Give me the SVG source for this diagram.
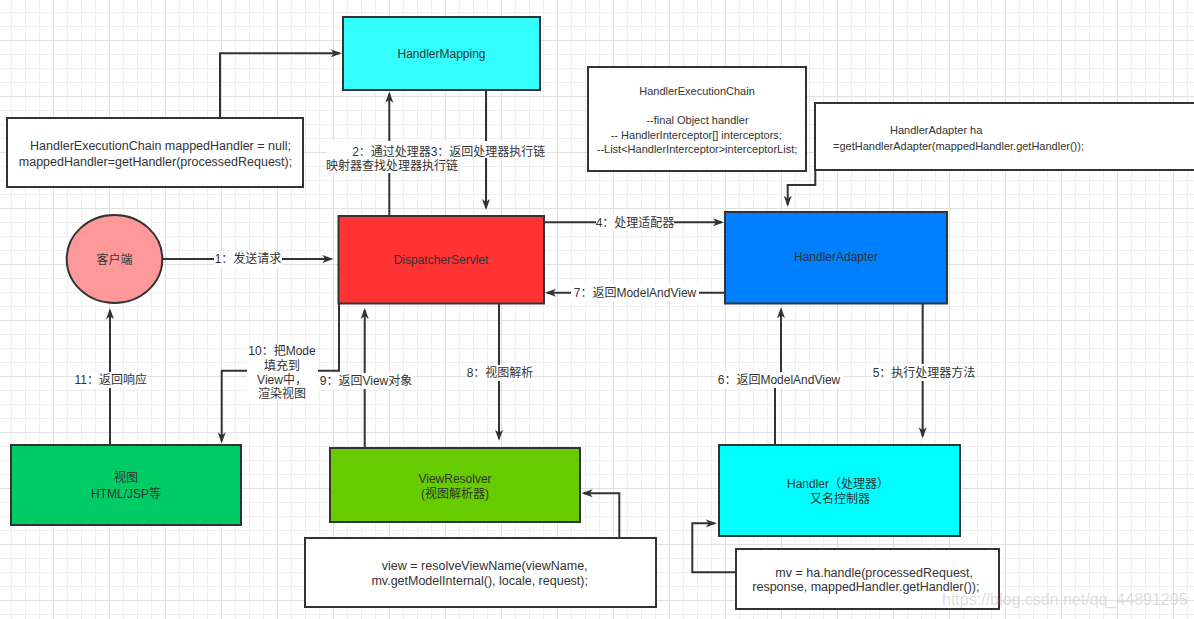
<svg xmlns="http://www.w3.org/2000/svg" width="1194" height="619" viewBox="0 0 1194 619">
<defs>
<pattern id="minor" patternUnits="userSpaceOnUse" x="11" y="12" width="14" height="14">
<path d="M0.5,0 V14 M0,0.5 H14" stroke="#efefef" stroke-width="1" fill="none"/>
</pattern>
<pattern id="major" patternUnits="userSpaceOnUse" x="53" y="40" width="56" height="56">
<path d="M0.5,0 V56 M0,0.5 H56" stroke="#e0e0e0" stroke-width="1" fill="none"/>
</pattern>
<marker id="arr" markerUnits="userSpaceOnUse" viewBox="0 0 12 10" markerWidth="12" markerHeight="10" refX="9" refY="5" orient="auto">
<path d="M0,1 L11,5 L0,9 L3,5 Z" fill="#333333"/>
</marker>
<style>
.box{stroke:#333333;stroke-width:2}
.t{font-family:"Liberation Sans","Noto Sans CJK SC",sans-serif;font-size:12px;fill:#333333;text-anchor:middle}
.code{font-family:"Liberation Sans","Noto Sans CJK SC",sans-serif;font-size:12.5px;fill:#333333;text-anchor:middle}
.code2{font-family:"Liberation Sans","Noto Sans CJK SC",sans-serif;font-size:11px;fill:#333333;text-anchor:middle}
.edge{fill:none;stroke:#333333;stroke-width:2;marker-end:url(#arr)}
.line{fill:none;stroke:#333333;stroke-width:2}
.lbg{fill:#ffffff}
</style>
</defs>
<rect width="1194" height="619" fill="#ffffff"/>
<rect width="1194" height="619" fill="url(#minor)"/>
<rect width="1194" height="619" fill="url(#major)"/>

<g id="connectors">
<path class="edge" d="M162.3,259 H331.3"/>
<path class="edge" d="M220,118 V53.3 H339.7"/>
<path class="edge" d="M389.3,215.7 V93.7"/>
<path class="edge" d="M486,90 V208"/>
<path class="edge" d="M544,222.3 H722"/>
<path class="edge" d="M725,292.7 H547"/>
<path class="edge" d="M922.7,303.3 V436.3"/>
<path class="edge" d="M775,445 V380 H781 V309.3"/>
<path class="edge" d="M499,303.3 V438.7"/>
<path class="edge" d="M364.7,447.7 V310"/>
<path class="edge" d="M339,303.3 V370.7 H221.7 V441.3"/>
<path class="edge" d="M110,445 V310.3"/>
<path class="edge" d="M815.3,170 V185 H787.7 V204.7"/>
<path class="edge" d="M619.3,537.7 V493.3 H583.7"/>
<path class="edge" d="M735.7,572.3 H692.3 V523.3 H714.7"/>

<g id="labels">
<rect class="lbg" x="214" y="251" width="68" height="16"/>
<text class="t" x="248" y="263">1：发送请求</text>
<rect class="lbg" x="327" y="141" width="103" height="32"/>
<text class="t" x="391.5" y="156">2：通过处理器</text>
<text class="t" x="392" y="169.5">映射器查找处理器执行链</text>
<rect class="lbg" x="431" y="141" width="114" height="17"/>
<text class="t" x="488" y="156">3：返回处理器执行链</text>
<rect class="lbg" x="596" y="214" width="78" height="16"/>
<text class="t" x="635" y="226.5">4：处理适配器</text>
<rect class="lbg" x="571" y="285" width="128" height="16"/>
<text class="t" x="635" y="297">7：返回ModelAndView</text>
<rect class="lbg" x="878" y="364" width="92" height="17"/>
<text class="t" x="924" y="376.5">5：执行处理器方法</text>
<rect class="lbg" x="715" y="372" width="128" height="16"/>
<text class="t" x="779" y="384">6：返回ModelAndView</text>
<rect class="lbg" x="468" y="365" width="64" height="16"/>
<text class="t" x="500" y="377">8：视图解析</text>
<rect class="lbg" x="319" y="373" width="94" height="16"/>
<text class="t" x="366" y="385">9：返回View对象</text>
<rect class="lbg" x="247" y="343" width="71" height="58"/>
<text class="t" x="282" y="355">10：把Mode</text>
<text class="t" x="282" y="369.5">填充到</text>
<text class="t" x="282" y="384">View中，</text>
<text class="t" x="282" y="398">渲染视图</text>
<rect class="lbg" x="75" y="372" width="72" height="16"/>
<text class="t" x="110.8" y="384">11：返回响应</text>
</g>
</g>

<g id="handlerMapping">
<rect class="box" x="343" y="17" width="197" height="73" fill="#33ffff"/>
<text class="t" x="441.5" y="58">HandlerMapping</text>
</g>

<g id="mappedHandlerNote">
<rect class="box" x="7" y="118" width="296" height="69" fill="#ffffff"/>
<text class="code" x="160.5" y="150">HandlerExecutionChain mappedHandler = null;</text>
<text class="code" x="155.5" y="166">mappedHandler=getHandler(processedRequest);</text>
</g>

<g id="executionChainNote">
<rect class="box" x="588" y="67" width="218" height="104" fill="#ffffff"/>
<text class="code2" x="697" y="95">HandlerExecutionChain</text>
<text class="code2" x="697.5" y="124">--final Object handler</text>
<text class="code2" x="696.3" y="138.5">-- HandlerInterceptor[] interceptors;</text>
<text class="code2" x="697" y="153">--List&lt;HandlerInterceptor&gt;interceptorList;</text>
</g>

<g id="handlerAdapterNote">
<rect class="box" x="815" y="103" width="400" height="67" fill="#ffffff"/>
<text class="code2" x="936.2" y="134">HandlerAdapter ha</text>
<text class="code2" x="958.5" y="150">=getHandlerAdapter(mappedHandler.getHandler());</text>
</g>

<g id="client">
<ellipse class="box" cx="114.5" cy="259" rx="47.8" ry="44" fill="#ff9999"/>
<text class="t" x="114.5" y="264">客户端</text>
</g>

<g id="dispatcherServlet">
<rect class="box" x="338.5" y="216" width="205.5" height="87.5" fill="#ff3333"/>
<text class="t" x="441" y="264">DispatcherServlet</text>
</g>

<g id="handlerAdapter">
<rect class="box" x="725" y="212" width="222" height="91.5" fill="#007fff"/>
<text class="t" x="836" y="261">HandlerAdapter</text>
</g>

<g id="view">
<rect class="box" x="11" y="445" width="230" height="80" fill="#00cc66"/>
<text class="t" x="126" y="482">视图</text>
<text class="t" x="126" y="497.5">HTML/JSP等</text>
</g>

<g id="viewResolver">
<rect class="box" x="330" y="448" width="250" height="74" fill="#66cc00"/>
<text class="t" x="455" y="482.5">ViewResolver</text>
<text class="t" x="455" y="497.5">(视图解析器)</text>
</g>

<g id="handler">
<rect class="box" x="719" y="445" width="241" height="91" fill="#00ffff"/>
<text class="t" x="838" y="487.5">Handler（处理器）</text>
<text class="t" x="840" y="502.5">又名控制器</text>
</g>

<g id="resolveViewNote">
<rect class="box" x="305" y="538" width="351" height="69" fill="#ffffff"/>
<text class="code" x="484.7" y="570">view = resolveViewName(viewName,</text>
<text class="code" x="479.7" y="585">mv.getModelInternal(), locale, request);</text>
</g>

<g id="handleNote">
<rect class="box" x="736" y="549" width="263" height="60" fill="#ffffff"/>
<text class="code" x="874.2" y="577">mv = ha.handle(processedRequest,</text>
<text class="code" x="865.9" y="591">response, mappedHandler.getHandler());</text>
</g>

<text x="942" y="605" font-family="Liberation Sans, sans-serif" font-size="16" fill="#d0d0d0" fill-opacity="0.7">https://blog.csdn.net/qq_44891295</text>
</svg>
